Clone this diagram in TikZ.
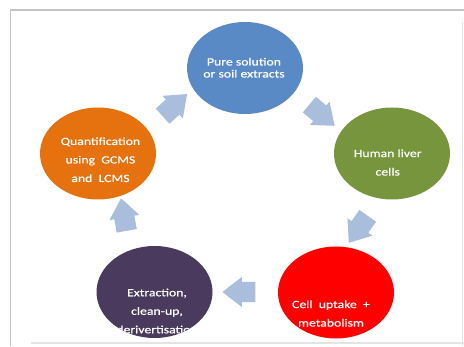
\documentclass[tikz,border=0pt]{standalone}
\usepackage{fontspec}
\setmainfont[FakeStretch=1.25,FakeBold=0.6]{Carlito}
\usetikzlibrary{shapes.geometric,shapes.arrows}

\definecolor{stageblue}{HTML}{5A8AC6}
\definecolor{stagegreen}{HTML}{77953C}
\definecolor{stagered}{HTML}{FF0000}
\definecolor{stagepurple}{HTML}{4A3A5E}
\definecolor{stageorange}{HTML}{E6710F}
\definecolor{flowblue}{HTML}{A9BEDD}
\definecolor{framegray}{HTML}{C4C4C4}
\definecolor{framelight}{HTML}{E4E4E4}

\tikzset{
  stage/.style={ellipse, minimum width=116pt, minimum height=92pt, inner sep=0pt, draw=none},
  stagetext/.style={text=white, align=center, inner sep=0pt,
                    font=\fontsize{11}{18.5}\selectfont},
  flow/.style={single arrow, fill=flowblue, draw=none,
               inner xsep=0pt, inner ysep=10pt,
               minimum height=33pt,
               single arrow head extend=5pt,
               single arrow tip angle=76},
}

\begin{document}
\begin{tikzpicture}[x=1pt,y=1pt]
\useasboundingbox (0,0) rectangle (464,346);

% frame
\draw[framegray, line width=1.3pt] (10.6,0) -- (10.6,336) -- (464,336);
\draw[framelight, line width=1pt] (462.7,0) -- (462.7,324);
\draw[framelight, line width=1.5pt] (31,3) -- (464,3);

% stages of the cycle
\node[stage, fill=stageblue]   (pure)    at (245,278)   {};
\node[stage, fill=stagegreen]  (liver)   at (392,192.5) {};
\node[stage, fill=stagered]    (uptake)  at (336,53.5)  {};
\node[stage, fill=stagepurple] (extract) at (154.5,54)  {};
\node[stage, fill=stageorange] (quant)   at (98,192.5)  {};

% stage labels
\node[stagetext, font=\fontsize{11}{12}\selectfont] (pure-t) at (244,278.3)
  {Pure solution\\or soil extracts};
\node[stagetext] (liver-t) at (387.7,183.5) {Human liver\\cells};
\node[stagetext] (uptake-t) at (331,32.5) {Cell\ \ uptake\ \ +\\metabolism};
\begin{scope}
  \clip (extract.center) ellipse [x radius=58pt, y radius=46pt];
  \node[stagetext] (extract-t) at (157,35)
    {Extraction,\\clean-up,\\derivertisation};
\end{scope}
\node[stagetext] (quant-t) at (100.5,186.3) {Quantification\\using\ \ GCMS\\and\ \ LCMS};

% block arrows between the stages
\node[flow, rotate=42]  (a1) at (170,236.5) {};
\node[flow, rotate=-40] (a2) at (317,235)   {};
\node[flow, rotate=235] (a3) at (362,122)   {};
\node[flow, rotate=180] (a4) at (245.5,54)  {};
\node[flow, rotate=100] (a5) at (125,125)   {};
\end{tikzpicture}
\end{document}
